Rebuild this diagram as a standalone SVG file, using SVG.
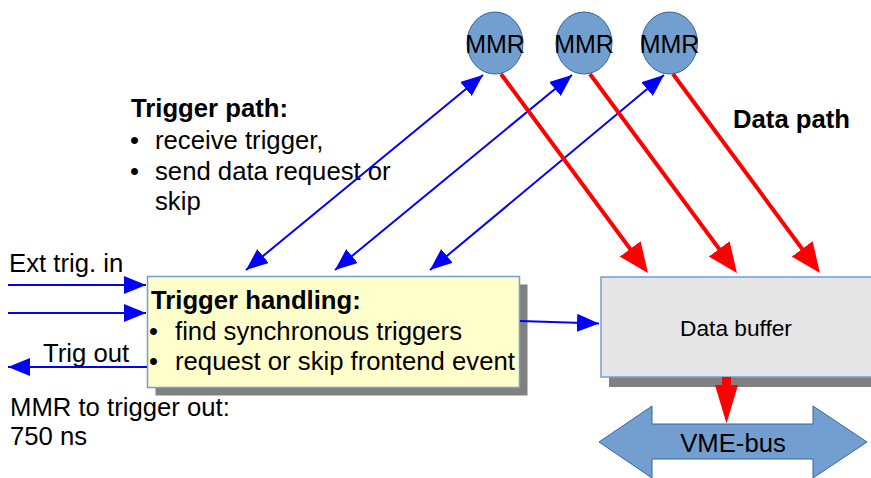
<svg xmlns="http://www.w3.org/2000/svg" width="871" height="478" viewBox="0 0 871 478">
<style>
text{font-family:"Liberation Sans",Arial,sans-serif;font-size:25.7px;fill:#000}
.b{font-weight:bold}
.blue{stroke:#0000ff;stroke-width:2;fill:none}
.red{stroke:#ff0000;stroke-width:4;fill:none}
.mmr{fill:#729fcf;stroke:#3465a4;stroke-width:1}
.shadow{fill:#808080}
</style>
<defs>
<marker id="bh" markerWidth="24" markerHeight="20" refX="22" refY="9" orient="auto-start-reverse" markerUnits="userSpaceOnUse"><path d="M0,0 L22,9 L0,18 Z" fill="#0000ff"/></marker>
<marker id="rh" markerWidth="32" markerHeight="28" refX="24" refY="13" orient="auto" markerUnits="userSpaceOnUse"><path d="M0,0 L30,13 L0,26 Z" fill="#ff0000"/></marker>
</defs>
<g id="mmr1"><ellipse class="mmr" cx="495" cy="43" rx="28" ry="31"/><text x="495" y="53" text-anchor="middle" style="font-size:25px">MMR</text></g>
<g id="mmr2"><ellipse class="mmr" cx="584" cy="43" rx="28" ry="31"/><text x="584" y="53" text-anchor="middle" style="font-size:25px">MMR</text></g>
<g id="mmr3"><ellipse class="mmr" cx="669.5" cy="43" rx="28" ry="31"/><text x="669.5" y="53" text-anchor="middle" style="font-size:25px">MMR</text></g>
<g id="trigger-path-label">
<text class="b" x="131" y="117">Trigger path:</text>
<text x="130" y="149">•</text><text x="155" y="149">receive trigger,</text>
<text x="130" y="180">•</text><text x="155" y="180">send data request or</text>
<text x="155" y="210">skip</text>
</g>
<g id="data-path-label"><text class="b" x="733" y="128">Data path</text></g>
<g id="trigger-handling">
<rect class="shadow" x="155.5" y="284.5" width="372" height="111"/>
<rect x="147.5" y="276.5" width="372" height="111" fill="#ffffcc" stroke="#729fcf" stroke-width="1.5"/>
<text class="b" x="151" y="309">Trigger handling:</text>
<text x="149" y="340">•</text><text x="175" y="340">find synchronous triggers</text>
<text x="149" y="370">•</text><text x="175" y="370">request or skip frontend event</text>
</g>
<g id="data-buffer">
<rect class="shadow" x="609" y="285" width="280" height="102"/>
<rect x="601" y="277" width="280" height="100" fill="#e6e6e6" stroke="#729fcf" stroke-width="1.5"/>
<text x="736" y="336" text-anchor="middle" style="font-size:22.7px">Data buffer</text>
</g>
<g id="vme-bus">
<polygon points="599,442 652,406 652,424 813,424 813,406 867,442 813,478 813,459 652,459 652,478" fill="#729fcf" stroke="#3465a4" stroke-width="1"/>
<text x="733" y="452" text-anchor="middle">VME-bus</text>
</g>
<g id="labels">
<text x="9" y="272">Ext trig. in</text>
<text x="43" y="362">Trig out</text>
<text x="10" y="416">MMR to trigger out:</text>
<text x="10" y="445">750 ns</text>
</g>
<g id="connectors">
<line class="blue" x1="246" y1="270" x2="483" y2="75" marker-start="url(#bh)" marker-end="url(#bh)"/>
<line class="blue" x1="335" y1="270" x2="572" y2="75" marker-start="url(#bh)" marker-end="url(#bh)"/>
<line class="blue" x1="430" y1="270" x2="664" y2="75" marker-start="url(#bh)" marker-end="url(#bh)"/>
<line class="red" x1="501" y1="74" x2="644.4" y2="268.2" marker-end="url(#rh)"/>
<line class="red" x1="590" y1="74" x2="733.4" y2="268.2" marker-end="url(#rh)"/>
<line class="red" x1="673" y1="74" x2="816.4" y2="268.2" marker-end="url(#rh)"/>
<line class="blue" x1="8" y1="285" x2="146" y2="285" marker-end="url(#bh)"/>
<line class="blue" x1="8" y1="313" x2="146" y2="313" marker-end="url(#bh)"/>
<line class="blue" x1="147" y1="367" x2="8" y2="367" marker-end="url(#bh)"/>
<line class="blue" x1="520" y1="321" x2="599" y2="323.5" marker-end="url(#bh)"/>
<rect x="722" y="377" width="9" height="9" fill="#ff0000"/>
<polygon points="715,385 738,385 726.5,423.5" fill="#ff0000"/>
</g>
</svg>
